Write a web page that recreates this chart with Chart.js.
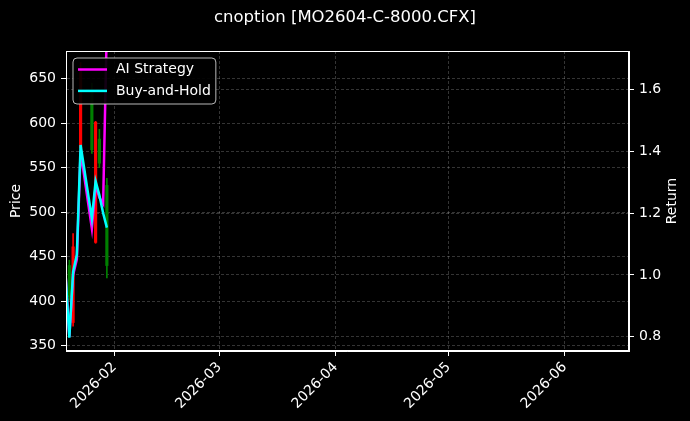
<!DOCTYPE html>
<html><head><meta charset="utf-8">
<script src="https://cdn.jsdelivr.net/npm/chart.js@4.4.1/dist/chart.umd.min.js"></script>
<style>html,body{margin:0;padding:0;background:#000;} #wrap{width:690px;height:421px;position:relative;}</style>
</head><body><div id="wrap"><canvas id="c"></canvas></div>
<script>
const titleText = 'cnoption [MO2604-C-8000.CFX]';
const dates  = ['2026-01-19','2026-01-20','2026-01-21','2026-01-22','2026-01-23','2026-01-26','2026-01-27','2026-01-28','2026-01-29','2026-01-30'];
const openP  = [null, 405, 461, null, 660, 570, 601, 555, null, 440];
const highP  = [null, 446, 476, null, 668, 645, 602, 593, null, 538];
const lowP   = [null, 401, 372, null, 568, 566, 465, 550, null, 426];
const closeP = [null, 440, 376, null, 572, 635, 466, 582, null, 530];
const aiReturn = [1.0, 0.80, 1.0, 1.05, 1.40, 1.15, 1.29, 1.25, 1.23, 1.81];
const bhReturn = [1.0, 0.797, 1.01, 1.066, 1.42, 1.183, 1.303, 1.258, 1.20, 1.153];
const priceTicks  = [350, 400, 450, 500, 550, 600, 650];
const returnTicks = [0.8, 1.0, 1.2, 1.4, 1.6];
const monthTicks  = ['2026-02', '2026-03', '2026-04', '2026-05', '2026-06'];
const seriesNames = ['AI Strategy', 'Buy-and-Hold'];

const FONT = 'DejaVu Sans';
Chart.defaults.font.family = FONT;
Chart.defaults.color = '#fff';

function dayNum(s) {
  const p = s.split('-').map(Number);
  return (Date.UTC(p[0], p[1] - 1, p[2] || 1) - Date.UTC(2026, 0, 1)) / 86400000;
}
const UP = '#008000', DOWN = '#ff0000';
const candleIdx = dates.map((d, i) => i).filter(i => highP[i] != null);
const candleColors = candleIdx.map(i => closeP[i] >= openP[i] ? UP : DOWN);

const gridCommon = {
  color: 'rgba(255,255,255,0.26)', lineWidth: 0.8,
  tickColor: '#fff', tickLength: 5, tickWidth: 1, tickBorderDash: []
};
const borderCommon = { display: true, color: '#fff', width: 1, dash: [3, 2] };
const tickFont = { family: FONT, size: 14 };

const decor = {
  id: 'decor',
  afterDraw(chart) {
    const ctx = chart.ctx, ca = chart.chartArea;
    ctx.save();
    ctx.strokeStyle = '#fff'; ctx.lineWidth = 1;
    ctx.strokeRect(ca.left + 0.5, ca.top + 0.5, ca.right - ca.left - 1, ca.bottom - ca.top - 1);
    // legend
    ctx.font = '14px "' + FONT + '"';
    const tw = Math.max(...seriesNames.map(n => ctx.measureText(n).width));
    const bx = ca.left + 7, by = ca.top + 7, bw = 43 + tw + 5, bh = 46;
    ctx.beginPath();
    ctx.roundRect(bx, by, bw, bh, 4);
    ctx.fillStyle = 'rgba(0,0,0,0.92)'; ctx.fill();
    ctx.strokeStyle = 'rgba(204,204,204,0.9)'; ctx.stroke();
    const cols = ['#ff00ff', '#00ffff'];
    seriesNames.forEach((n, i) => {
      const ry = by + 11.5 + i * 21.4;
      ctx.beginPath(); ctx.moveTo(bx + 5, ry); ctx.lineTo(bx + 34, ry);
      ctx.strokeStyle = cols[i]; ctx.lineWidth = 2.5; ctx.stroke();
      ctx.fillStyle = '#fff'; ctx.textBaseline = 'middle'; ctx.textAlign = 'left';
      ctx.fillText(n, bx + 43, ry);
    });
    // axis titles
    const cy = (ca.top + ca.bottom) / 2;
    ctx.textAlign = 'center'; ctx.textBaseline = 'middle'; ctx.fillStyle = '#fff';
    ctx.translate(16.5, cy); ctx.rotate(-Math.PI / 2); ctx.fillText('Price', 0, 0);
    ctx.setTransform(1, 0, 0, 1, 0, 0);
    ctx.translate(672.5, cy); ctx.rotate(-Math.PI / 2); ctx.fillText('Return', 0, 0);
    ctx.restore();
  }
};

new Chart(document.getElementById('c'), {
  type: 'line',
  data: {
    datasets: [
      { type: 'line', label: seriesNames[1], yAxisID: 'y2', order: 0,
        data: dates.map((d, i) => ({ x: dayNum(d), y: bhReturn[i] })),
        borderColor: '#00ffff', borderWidth: 2.5, pointRadius: 0, tension: 0, fill: false },
      { type: 'line', label: seriesNames[0], yAxisID: 'y2', order: 1,
        data: dates.map((d, i) => ({ x: dayNum(d), y: aiReturn[i] })),
        borderColor: '#ff00ff', borderWidth: 2.5, pointRadius: 0, tension: 0, fill: false },
      { type: 'bar', label: 'body', yAxisID: 'y', order: 2, grouped: false,
        data: candleIdx.map(i => ({ x: dayNum(dates[i]), y: [openP[i], closeP[i]] })),
        backgroundColor: candleColors, borderWidth: 0, barThickness: 2.5 },
      { type: 'bar', label: 'wick', yAxisID: 'y', order: 3, grouped: false,
        data: candleIdx.map(i => ({ x: dayNum(dates[i]), y: [lowP[i], highP[i]] })),
        backgroundColor: candleColors, borderWidth: 0, barThickness: 1 }
    ]
  },
  options: {
    responsive: true, maintainAspectRatio: false, devicePixelRatio: 1, animation: false,
    layout: { padding: 0 },
    plugins: {
      legend: { display: false }, tooltip: { enabled: false },
      title: { display: true, text: titleText, color: '#fff',
        font: { family: FONT, size: 16.5, weight: 'normal' }, padding: { top: 8, bottom: 23.2 } }
    },
    scales: {
      x: {
        type: 'linear', offset: false,
        min: dayNum('2026-01-19') + 0.11, max: dayNum('2026-06-18') + 0.12,
        afterBuildTicks: s => { s.ticks = monthTicks.map(m => ({ value: dayNum(m + '-01') })); },
        afterFit: s => { s.height = 70; },
        ticks: { color: '#fff', font: tickFont, autoSkip: false, maxRotation: 45, minRotation: 45, padding: 3,
          callback: (v) => { const k = monthTicks.findIndex(m => dayNum(m + '-01') === v); return k >= 0 ? monthTicks[k] : ''; } },
        grid: Object.assign({ offset: false }, gridCommon), border: borderCommon
      },
      y: {
        type: 'linear', position: 'left', min: 344, max: 681,
        afterBuildTicks: s => { s.ticks = priceTicks.map(v => ({ value: v })); },
        afterFit: s => { s.width = 66; },
        ticks: { color: '#fff', font: tickFont, padding: 5, callback: v => String(v) },
        grid: gridCommon, border: borderCommon
      },
      y2: {
        type: 'linear', position: 'right', min: 0.754, max: 1.724,
        afterBuildTicks: s => { s.ticks = returnTicks.map(v => ({ value: v })); },
        afterFit: s => { s.width = 61; },
        ticks: { color: '#fff', font: tickFont, padding: 5, callback: v => v.toFixed(1) },
        grid: Object.assign({ drawOnChartArea: true }, gridCommon), border: borderCommon
      }
    }
  },
  plugins: [decor]
});
</script>
</body></html>
